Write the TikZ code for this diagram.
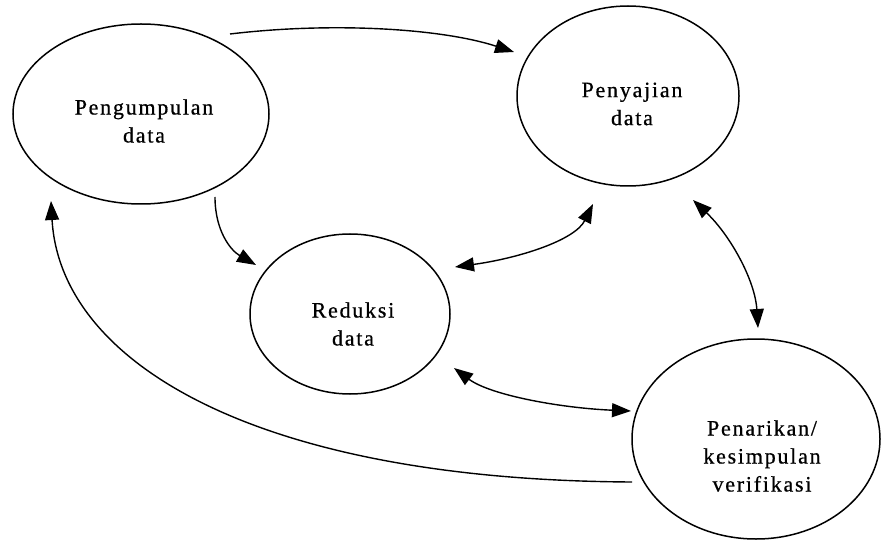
\documentclass[tikz,border=0pt]{standalone}
\usepackage{fontspec}
\setmainfont{Liberation Serif}[LetterSpace=8,FakeBold=0.6]
\usetikzlibrary{arrows.meta,shapes.geometric}
\begin{document}
\begin{tikzpicture}[x=1pt,y=-1pt,
  proc/.style={draw, ellipse, line width=1.5pt, inner sep=0pt},
  lbl/.style={align=center, font=\fontsize{22}{28}\selectfont, inner sep=0pt},
  tipa/.tip={Triangle[length=19pt,width=14pt]},
  conn/.style={line width=1.4pt, -tipa},
  biconn/.style={line width=1.4pt, tipa-tipa}]
\useasboundingbox (0,0) rectangle (881,540);

\node[proc, minimum width=256pt, minimum height=180pt] (P) at (141,114) {};
\node[proc, minimum width=222pt, minimum height=180pt] (S) at (628,96) {};
\node[proc, minimum width=200pt, minimum height=160pt] (R) at (350,314) {};
\node[proc, minimum width=248pt, minimum height=200pt] (K) at (756,439) {};

\node[lbl] (Pt) at (144,121) {Pengumpulan\\data};
\node[lbl] (St) at (632,104) {Penyajian\\data};
\node[lbl] (Rt) at (353,324) {Reduksi\\data};
\node[lbl] (Kt) at (762,456) {Penarikan/\\kesimpulan\\verifikasi};

\coordinate (a1) at (230,34);  \coordinate (a2) at (514,52);
\coordinate (b1) at (215,197); \coordinate (b2) at (256,265);
\coordinate (c1) at (455,267); \coordinate (c2) at (593,204);
\coordinate (d1) at (693,200); \coordinate (d2) at (758,328);
\coordinate (e1) at (454,368); \coordinate (e2) at (631,411);
\coordinate (f1) at (632,482); \coordinate (f2) at (51,201);

\draw[conn] (a1) .. controls (330,22) and (440,28) .. (a2);
\draw[conn] (b1) .. controls (215,230) and (230,250) .. (b2);
\draw[biconn] (c1) .. controls (520,258) and (575,240) .. (c2);
\draw[biconn] (d1) .. controls (730,235) and (755,280) .. (d2);
\draw[biconn] (e1) .. controls (490,395) and (560,408) .. (e2);
\draw[conn] (f1) .. controls (250,480) and (60,360) .. (f2);
\end{tikzpicture}
\end{document}
